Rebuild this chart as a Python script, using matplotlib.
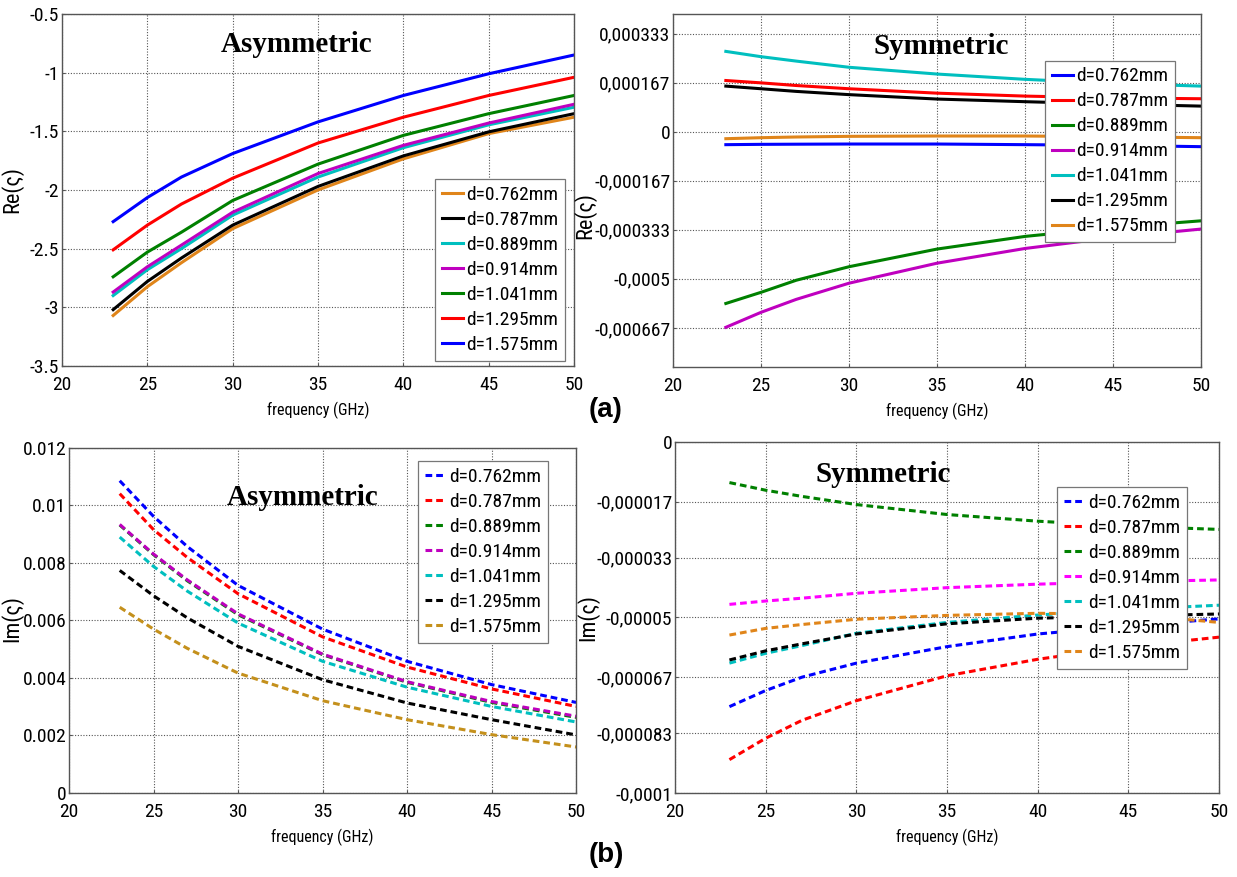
import matplotlib.pyplot as plt
from matplotlib import font_manager
from matplotlib.ticker import FixedLocator

# narrow sans if the sandbox has one, else Liberation Sans at a smaller size
installed = {f.name for f in font_manager.fontManager.ttflist}
narrow = next((n for n in ["Liberation Sans Narrow", "Roboto Condensed",
                           "Open Sans Condensed", "Noto Sans Condensed"]
               if n in installed), None)
if narrow:
    plt.rcParams["font.family"] = [narrow, "Liberation Sans", "DejaVu Sans"]
    TICK_FS, LEG_FS, XLAB_FS, YLAB_FS, LEG_SP = 14, 14, 11.5, 16, 0.36
else:
    plt.rcParams["font.family"] = ["Liberation Sans", "DejaVu Sans"]
    TICK_FS, LEG_FS, XLAB_FS, YLAB_FS, LEG_SP = 11.5, 12, 9.5, 13, 0.62

freq = [23, 25, 27, 30, 35, 40, 45, 50]
labels = ["d=0.762mm", "d=0.787mm", "d=0.889mm", "d=0.914mm",
          "d=1.041mm", "d=1.295mm", "d=1.575mm"]

# (a) Re, asymmetric
re_asym = {
    "d=0.762mm": [-3.07, -2.825, -2.62, -2.33, -2.00, -1.735, -1.52, -1.38],
    "d=0.787mm": [-3.02, -2.78, -2.58, -2.30, -1.97, -1.71, -1.505, -1.35],
    "d=0.889mm": [-2.90, -2.68, -2.50, -2.215, -1.89, -1.64, -1.445, -1.295],
    "d=0.914mm": [-2.87, -2.655, -2.47, -2.19, -1.86, -1.62, -1.43, -1.27],
    "d=1.041mm": [-2.74, -2.53, -2.36, -2.09, -1.78, -1.535, -1.35, -1.195],
    "d=1.295mm": [-2.51, -2.30, -2.12, -1.90, -1.60, -1.38, -1.195, -1.04],
    "d=1.575mm": [-2.27, -2.065, -1.89, -1.69, -1.42, -1.195, -1.01, -0.85],
}
# (a) Re, symmetric
re_sym = {
    "d=0.762mm": [-4.41e-5, -4.3e-5, -4.25e-5, -4.19e-5, -4.19e-5, -4.41e-5, -4.64e-5, -5.09e-5],
    "d=0.787mm": [1.74e-4, 1.66e-4, 1.57e-4, 1.46e-4, 1.31e-4, 1.21e-4, 1.15e-4, 1.12e-4],
    "d=0.889mm": [-5.84e-4, -5.46e-4, -5.05e-4, -4.59e-4, -3.99e-4, -3.56e-4, -3.26e-4, -3.03e-4],
    "d=0.914mm": [-6.65e-4, -6.14e-4, -5.70e-4, -5.15e-4, -4.47e-4, -3.97e-4, -3.60e-4, -3.31e-4],
    "d=1.041mm": [2.73e-4, 2.55e-4, 2.40e-4, 2.19e-4, 1.96e-4, 1.78e-4, 1.64e-4, 1.55e-4],
    "d=1.295mm": [1.55e-4, 1.46e-4, 1.37e-4, 1.26e-4, 1.11e-4, 1.02e-4, 0.94e-4, 0.87e-4],
    "d=1.575mm": [-2.38e-5, -2.04e-5, -1.8e-5, -1.58e-5, -1.47e-5, -1.47e-5, -1.7e-5, -2.04e-5],
}
# (b) Im, asymmetric
im_asym = {
    "d=0.762mm": [0.01086, 0.00962, 0.00857, 0.00722, 0.0057, 0.00458, 0.00377, 0.00315],
    "d=0.787mm": [0.01041, 0.00916, 0.00819, 0.00693, 0.00543, 0.00438, 0.00362, 0.00301],
    "d=0.889mm": [0.00932, 0.00829, 0.00738, 0.0062, 0.00481, 0.00385, 0.00315, 0.00263],
    "d=0.914mm": [0.00934, 0.00831, 0.00741, 0.00623, 0.00483, 0.00387, 0.00318, 0.00267],
    "d=1.041mm": [0.0089, 0.00788, 0.00702, 0.00591, 0.00458, 0.00368, 0.00301, 0.00247],
    "d=1.295mm": [0.00774, 0.00686, 0.00609, 0.0051, 0.00394, 0.00313, 0.00255, 0.00202],
    "d=1.575mm": [0.00646, 0.0057, 0.00503, 0.00417, 0.00321, 0.00255, 0.00203, 0.0016],
}
# (b) Im, symmetric
im_sym = {
    "d=0.762mm": [-7.54e-5, -7.08e-5, -6.7e-5, -6.30e-5, -5.83e-5, -5.47e-5, -5.24e-5, -5.04e-5],
    "d=0.787mm": [-9.05e-5, -8.44e-5, -7.93e-5, -7.37e-5, -6.66e-5, -6.19e-5, -5.83e-5, -5.56e-5],
    "d=0.889mm": [-1.156e-5, -1.374e-5, -1.55e-5, -1.782e-5, -2.066e-5, -2.256e-5, -2.40e-5, -2.49e-5],
    "d=0.914mm": [-4.626e-5, -4.53e-5, -4.45e-5, -4.31e-5, -4.15e-5, -4.05e-5, -3.98e-5, -3.93e-5],
    "d=1.041mm": [-6.30e-5, -6.02e-5, -5.8e-5, -5.45e-5, -5.14e-5, -4.93e-5, -4.77e-5, -4.65e-5],
    "d=1.295mm": [-6.21e-5, -5.95e-5, -5.75e-5, -5.47e-5, -5.18e-5, -5.02e-5, -4.96e-5, -4.90e-5],
    "d=1.575mm": [-5.50e-5, -5.31e-5, -5.2e-5, -5.05e-5, -4.94e-5, -4.88e-5, -4.91e-5, -5.14e-5],
}

re_sym_ticks = [-0.000667, -0.0005, -0.000333, -0.000167, 0, 0.000167, 0.000333]
re_sym_ticklabels = ["-0,000667", "-0,0005", "-0,000333", "-0,000167", "0", "0,000167", "0,000333"]
im_sym_ticks = [-0.0001, -0.000083, -0.000067, -0.00005, -0.000033, -0.000017, 0]
im_sym_ticklabels = ["-0,0001", "-0,000083", "-0,000067", "-0,00005", "-0,000033", "-0,000017", "0"]

ORANGE = "#e0851a"
GOLD = "#c4901c"
colors_re_asym = {"d=0.762mm": ORANGE, "d=0.787mm": "black", "d=0.889mm": "#00bfbf",
                  "d=0.914mm": "#bf00bf", "d=1.041mm": "#008000", "d=1.295mm": "red",
                  "d=1.575mm": "blue"}
colors_re_sym = {"d=0.762mm": "blue", "d=0.787mm": "red", "d=0.889mm": "#008000",
                 "d=0.914mm": "#bf00bf", "d=1.041mm": "#00bfbf", "d=1.295mm": "black",
                 "d=1.575mm": ORANGE}
colors_im_asym = {"d=0.762mm": "blue", "d=0.787mm": "red", "d=0.889mm": "#008000",
                  "d=0.914mm": "#bf00bf", "d=1.041mm": "#00bfbf", "d=1.295mm": "black",
                  "d=1.575mm": GOLD}
colors_im_sym = {"d=0.762mm": "blue", "d=0.787mm": "red", "d=0.889mm": "#008000",
                 "d=0.914mm": "#ff00ff", "d=1.041mm": "#00bfbf", "d=1.295mm": "black",
                 "d=1.575mm": ORANGE}

fig = plt.figure(figsize=(12.37, 8.77), dpi=100)
ax1 = fig.add_axes([0.0501, 0.5827, 0.4139, 0.4014])
ax2 = fig.add_axes([0.5441, 0.5815, 0.4268, 0.4025])
ax3 = fig.add_axes([0.0558, 0.0958, 0.4099, 0.3934])
ax4 = fig.add_axes([0.5457, 0.0958, 0.4398, 0.4002])


def style_axes(ax, ylabel, label_xy):
    ax.set_xlim(20, 50)
    ax.set_xticks([20, 25, 30, 35, 40, 45, 50])
    ax.grid(True, linestyle=(0, (1, 1.5)), color="#555555", linewidth=0.8)
    ax.set_axisbelow(True)
    for s in ax.spines.values():
        s.set_color("#555555")
        s.set_linewidth(1.0)
    ax.tick_params(direction="in", length=2, labelsize=TICK_FS, colors="#555555",
                   labelcolor="black")
    ax.tick_params(axis="x", pad=7)
    ax.tick_params(axis="y", pad=2)
    ax.set_xlabel("frequency (GHz)", fontsize=XLAB_FS, labelpad=6)
    ax.set_ylabel(ylabel, fontsize=YLAB_FS)
    ax.yaxis.set_label_coords(*label_xy)


def add_legend(ax, anchor, loc):
    leg = ax.legend(loc=loc, bbox_to_anchor=anchor, fontsize=LEG_FS, handlelength=1.1,
                    handletextpad=0.15, labelspacing=LEG_SP, borderpad=0.35,
                    fancybox=False, framealpha=1, edgecolor="#777777",
                    borderaxespad=0)
    leg.get_frame().set_linewidth(0.9)


# (a) left
for lab in labels:
    ax1.plot(freq, re_asym[lab], color=colors_re_asym[lab], lw=2.2, label=lab)
ax1.set_ylim(-3.5, -0.5)
ax1.set_yticks([-3.5, -3, -2.5, -2, -1.5, -1, -0.5])
ax1.set_yticklabels(["-3.5", "-3", "-2.5", "-2", "-1.5", "-1", "-0.5"])
style_axes(ax1, "Re(ς)", (-0.075, 0.5))
ax1.text(0.459, 0.912, "Asymmetric", transform=ax1.transAxes, ha="center", va="center",
         family="Liberation Serif", fontweight="bold", fontsize=21)
add_legend(ax1, (0.983, 0.014), "lower right")

# (a) right
for lab in labels:
    ax2.plot(freq, re_sym[lab], color=colors_re_sym[lab], lw=2.2, label=lab)
ax2.set_ylim(-0.0008, 0.0004)
ax2.yaxis.set_major_locator(FixedLocator(re_sym_ticks))
ax2.set_yticklabels(re_sym_ticklabels)
style_axes(ax2, "Re(ς)", (-0.145, 0.43))
ax2.text(0.508, 0.909, "Symmetric", transform=ax2.transAxes, ha="center", va="center",
         family="Liberation Serif", fontweight="bold", fontsize=21)
add_legend(ax2, (0.951, 0.868), "upper right")

# (b) left
for lab in labels:
    ax3.plot(freq, im_asym[lab], color=colors_im_asym[lab], lw=2.2, label=lab,
             linestyle=(0, (2.2, 1.3)))
ax3.set_ylim(0, 0.012)
ax3.set_yticks([0, 0.002, 0.004, 0.006, 0.008, 0.01, 0.012])
ax3.set_yticklabels(["0", "0.002", "0.004", "0.006", "0.008", "0.01", "0.012"])
style_axes(ax3, "Im(ς)", (-0.09, 0.507))
ax3.text(0.46, 0.855, "Asymmetric", transform=ax3.transAxes, ha="center", va="center",
         family="Liberation Serif", fontweight="bold", fontsize=21)
add_legend(ax3, (0.945, 0.962), "upper right")

# (b) right
for lab in labels:
    ax4.plot(freq, im_sym[lab], color=colors_im_sym[lab], lw=2.2, label=lab,
             linestyle=(0, (2.2, 1.3)))
ax4.set_ylim(-0.0001, 0)
ax4.yaxis.set_major_locator(FixedLocator(im_sym_ticks))
ax4.set_yticklabels(im_sym_ticklabels)
style_axes(ax4, "Im(ς)", (-0.14, 0.5))
ax4.text(0.382, 0.906, "Symmetric", transform=ax4.transAxes, ha="center", va="center",
         family="Liberation Serif", fontweight="bold", fontsize=21)
add_legend(ax4, (0.941, 0.872), "upper right")

fig.text(606 / 1237, 1 - 410 / 877, "(a)", ha="center", va="center", fontsize=20,
         fontweight="bold", family="Liberation Sans")
fig.text(606 / 1237, 1 - 855 / 877, "(b)", ha="center", va="center", fontsize=20,
         fontweight="bold", family="Liberation Sans")

fig.savefig("out.png", dpi=100)
plt.close(fig)
